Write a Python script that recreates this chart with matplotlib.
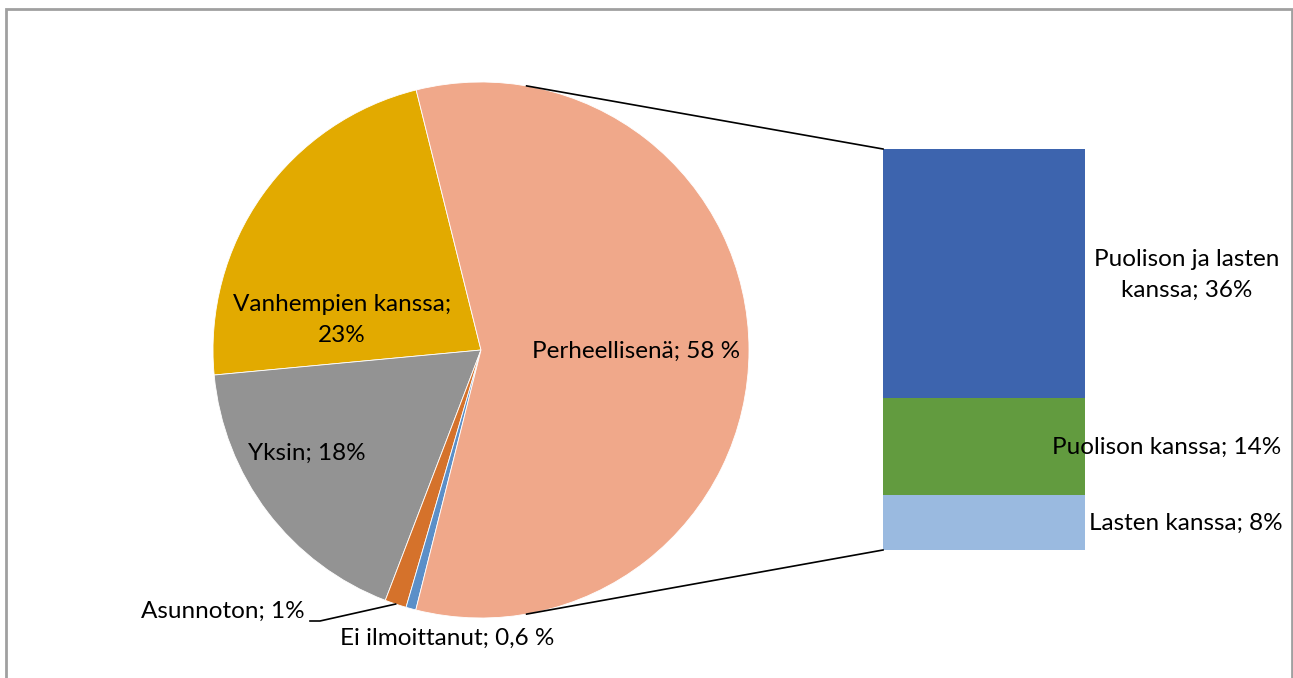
import numpy as np
import matplotlib
matplotlib.use("Agg")
import matplotlib.pyplot as plt
from matplotlib.patches import Rectangle

# Data
pie_labels = ["Vanhempien kanssa;\n23%", "Yksin; 18%", "Asunnoton; 1%",
              "Ei ilmoittanut; 0,6 %", "Perheellisenä; 58 %"]
pie_values = [22.6, 17.7, 1.3, 0.6, 57.8]
pie_colors = ["#E2AA00", "#939393", "#D5722B", "#5B8FC8", "#F0A88A"]

bar_labels = ["Lasten kanssa; 8%", "Puolison kanssa; 14%", "Puolison ja lasten\nkanssa; 36%"]
bar_values = [8, 14, 36]
bar_colors = ["#9ABAE0", "#629B3F", "#3D64AE"]

W, H = 1293, 678
fig = plt.figure(figsize=(W / 100, H / 100), dpi=100)
ax = fig.add_axes([0, 0, 1, 1])

plt.rcParams['font.family'] = ['Lato', 'DejaVu Sans']
fs = 17.5

# Pie
cx, cy, R = 481, H - 350, 268
start = 104
wedges, _ = ax.pie(pie_values, colors=pie_colors, startangle=start, counterclock=True,
                   center=(cx, cy), radius=R, frame=True,
                   wedgeprops=dict(edgecolor="white", linewidth=0.6))
ax.set_xlim(0, W)
ax.set_ylim(0, H)
ax.set_aspect("auto")
ax.axis("off")

# Bar (stacked)
bx, bw = 883, 202
scale = (550 - 149) / sum(bar_values)
bottom = H - 550
for v, c in zip(bar_values, bar_colors):
    ax.bar(bx + bw / 2, v * scale, width=bw, bottom=bottom, color=c, edgecolor="none")
    bottom += v * scale
bar_top = bottom
bar_bot = H - 550

# Connector lines
a = np.deg2rad(80.2)
ax.plot([cx + R * np.cos(a), bx], [cy + R * np.sin(a), bar_top], color="black", lw=1.2)
ax.plot([cx + R * np.cos(-a), bx], [cy + R * np.sin(-a), bar_bot], color="black", lw=1.2)

# Pie labels
ax.text(342, H - 320, pie_labels[0], ha="center", va="center", fontsize=fs, linespacing=1.6)
ax.text(307, H - 453, pie_labels[1], ha="center", va="center", fontsize=fs)
ax.text(305, H - 611, pie_labels[2], ha="right", va="center", fontsize=fs)
ax.text(447, H - 638, pie_labels[3], ha="center", va="center", fontsize=fs)
ax.text(636, H - 351, pie_labels[4], ha="center", va="center", fontsize=fs)

# Asunnoton leader line
ang = np.deg2rad(start + sum(pie_values[:2]) / 100 * 360 + pie_values[2] / 100 * 180)
ex, ey = cx + R * np.cos(ang), cy + R * np.sin(ang)
ax.plot([310, 320, ex], [H - 621, H - 621, ey], color="black", lw=1.2)

# Bar labels
ax.text(1186, H - 523, bar_labels[0], ha="center", va="center", fontsize=fs)
ax.text(1167, H - 447, bar_labels[1], ha="center", va="center", fontsize=fs)
ax.text(1187, H - 275, bar_labels[2], ha="center", va="center", fontsize=fs, linespacing=1.6)

# Chart border
ax.add_patch(Rectangle((6, -5), 1286, H - 9 + 5, fill=False, edgecolor="#A0A0A0", lw=2,
                       clip_on=False))

fig.savefig("out.png", dpi=100)
